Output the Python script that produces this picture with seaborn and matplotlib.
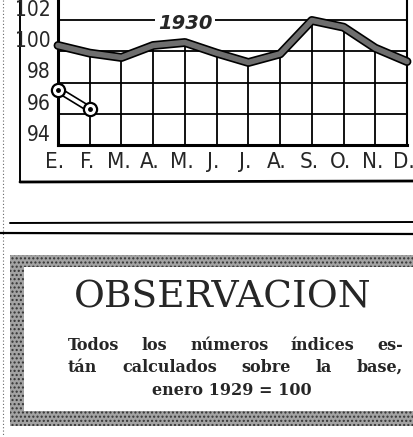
import numpy as np
import pandas as pd
import matplotlib
matplotlib.use("Agg")
import matplotlib.pyplot as plt
import matplotlib.patheffects as pe
import matplotlib.transforms as mtransforms
from matplotlib.patches import Rectangle
import seaborn as sns

# --- datos ---
meses = ["E.", "F.", "M.", "A.", "M.", "J.", "J.", "A.", "S.", "O.", "N.", "D."]
indice_1930 = [100.37, 99.88, 99.6, 100.37, 100.56, 99.88, 99.28, 99.83, 101.97, 101.54, 100.2, 99.34]
indice_1929 = [97.53, 96.29]          # solo enero y febrero
y_ticks = [94, 96, 98, 100, 102]
etiqueta_serie = "1930"
titulo_nota = "OBSERVACION"
nota_lineas = [
    "Todos los números índices es-",
    "tán calculados sobre la base,",
    "enero 1929 = 100",
]

sns.set_style("white")
plt.rcParams["font.family"] = ["DejaVu Sans"]

W, H = 414, 437
fig = plt.figure(figsize=(W / 100, H / 100), dpi=100)
fig.patch.set_facecolor("white")

# capa decorativa en pixeles (y hacia abajo)
deco = fig.add_axes([0, 0, 1, 1], zorder=0)
deco.set_xlim(0, W)
deco.set_ylim(H, 0)
deco.axis("off")

# --- grafico ---
ax = fig.add_axes([58 / W, 1 - 145 / H, (407 - 58) / W, 145 / H], zorder=2)
ax.set_facecolor("none")

df30 = pd.DataFrame({"mes": range(len(indice_1930)), "indice": indice_1930})
df29 = pd.DataFrame({"mes": range(len(indice_1929)), "indice": indice_1929})

# reticula: horizontales completas, verticales solo bajo la curva de 1930
ax.grid(True, axis="y", color="black", lw=1.3)
ax.vlines(df30["mes"], 94, df30["indice"], color="black", lw=1.3, zorder=1)

sns.lineplot(data=df30, x="mes", y="indice", ax=ax, color="#6e6e6e", lw=4.0,
             zorder=5, clip_on=False,
             path_effects=[pe.Stroke(linewidth=6.4, foreground="black"), pe.Normal()])

sns.lineplot(data=df29, x="mes", y="indice", ax=ax, color="white", lw=2.6,
             zorder=6, clip_on=False,
             path_effects=[pe.Stroke(linewidth=5.0, foreground="black"), pe.Normal()])
ax.plot(df29["mes"], df29["indice"], ls="none", marker="o", ms=9.5, mfc="white",
        mec="black", mew=1.6, zorder=7, clip_on=False)
ax.plot(df29["mes"], df29["indice"], ls="none", marker="o", ms=2.5, mfc="black",
        mec="black", zorder=8, clip_on=False)

ax.set_xlim(0, len(meses) - 1)
ax.set_ylim(94, 103.28)
ax.set_xticks(range(len(meses)))
ax.set_xticklabels([])
ax.set_yticks(y_ticks)
ax.set_yticklabels([str(v) for v in y_ticks], family="DejaVu Sans",
                   stretch="condensed", fontsize=15)
for lab in ax.get_yticklabels():
    lab.set_va("bottom")
ax.tick_params(axis="x", length=0)
ax.tick_params(axis="y", length=0, pad=5)
ax.set_xlabel("")
ax.set_ylabel("")

# letras de los meses, algo a la izquierda de cada linea vertical
trans_mes = ax.get_xaxis_transform() + mtransforms.ScaledTranslation(
    -3 / 100, -7 / 100, fig.dpi_scale_trans)
for i, m in enumerate(meses):
    ax.text(i, 0, m, transform=trans_mes, ha="center", va="top",
            family="DejaVu Sans", stretch="condensed", fontsize=16)

for s in ["left", "bottom"]:
    ax.spines[s].set_linewidth(2.2)
    ax.spines[s].set_color("black")
ax.spines["right"].set_linewidth(1.5)
ax.spines["right"].set_color("black")
ax.spines["top"].set_visible(False)

ax.text(4, 101.75, etiqueta_serie, ha="center", va="center", fontsize=14,
        style="italic", weight="bold", zorder=9,
        bbox=dict(boxstyle="square,pad=0.15", fc="white", ec="none"))

# --- marcos y lineas ---
deco.plot([3, 3], [0, H], color="#666666", lw=0.8, ls=(0, (1, 2)))
deco.plot([20, 20], [0, 182], color="black", lw=1.4)
deco.plot([20, W], [182, 181], color="black", lw=2.0)
deco.plot([10, W], [223, 222], color="black", lw=1.4)
deco.plot([0, W], [233, 234], color="black", lw=1.6)

for r in [(12, 255, W - 12, 12), (10, 255, 14, 171), (12, 411, W - 12, 15)]:
    deco.add_patch(Rectangle(r[:2], r[2], r[3], facecolor="#a3a3a3",
                             edgecolor="#333333", hatch="....", lw=0))

deco.text(223, 298, titulo_nota, ha="center", va="center",
          family=["DejaVu Serif"], fontsize=27)

# texto justificado
cuerpo = dict(family=["DejaVu Serif"], weight="bold", fontsize=11.5, va="baseline")


def justificar(palabras, x0, x1, y):
    textos = [deco.text(0, y, p, ha="left", **cuerpo) for p in palabras]
    fig.canvas.draw()
    rend = fig.canvas.get_renderer()
    anchos = [t.get_window_extent(rend).width for t in textos]
    hueco = (x1 - x0 - sum(anchos)) / (len(palabras) - 1)
    x = x0
    for t, w in zip(textos, anchos):
        t.set_x(x)
        x += w + hueco


justificar(nota_lineas[0].split(), 68, 403, 350)
justificar(nota_lineas[1].split(), 68, 403, 372)
deco.text(232, 395, nota_lineas[2], ha="center", **cuerpo)

fig.savefig("out.png", dpi=100)
